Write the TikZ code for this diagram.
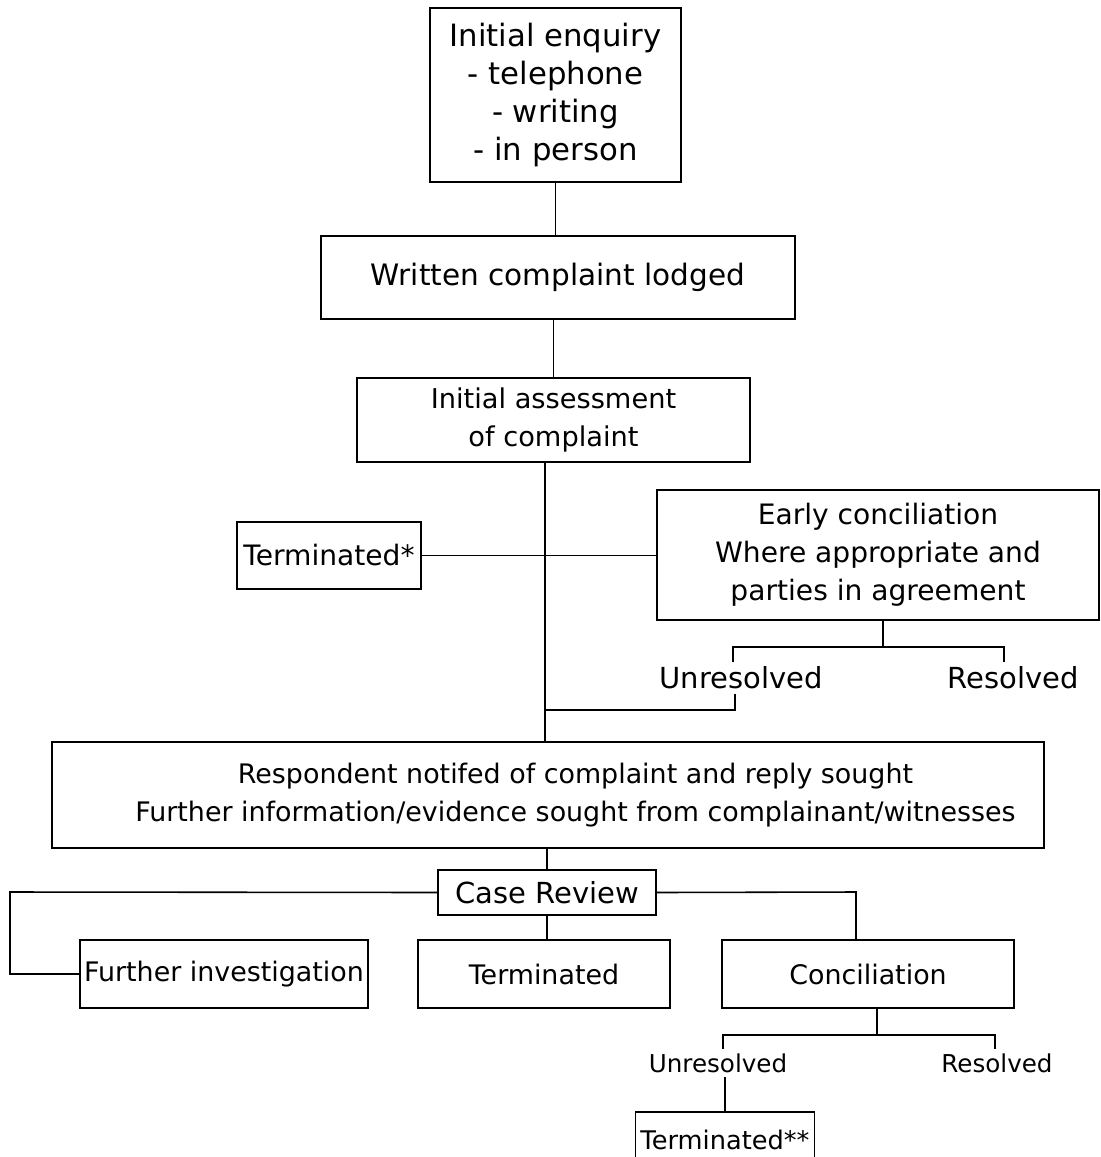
\documentclass[tikz,border=0pt]{standalone}
\usepackage{fontspec}
\setmainfont{DejaVu Sans}
\newcommand{\sz}[1]{\fontsize{#1}{21.5}\selectfont}

\begin{document}
\begin{tikzpicture}[x=0.02cm, y=-0.02cm, line width=0.9pt,
    box/.style={draw, rectangle, align=center, inner sep=0pt},
    lbl/.style={inner sep=2pt}]
    \useasboundingbox (0,0) rectangle (1101,1157);
    \node[box, minimum width=5.02cm, minimum height=3.48cm, font=\sz{17.5}] (enq) at (555.5,95) {Initial enquiry\\- telephone\\- writing\\- in person};
    \node[box, minimum width=9.48cm, minimum height=1.66cm, font=\sz{16.8}] (written) at (558,277.5) {Written complaint lodged};
    \node[box, minimum width=7.86cm, minimum height=1.68cm, font=\sz{15.5}] (assess) at (553.5,420) {Initial assessment\\of complaint};
    \node[box, minimum width=3.68cm, minimum height=1.34cm, font=\sz{16}] (term1) at (329,555.5) {Terminated*};
    \node[box, minimum width=8.84cm, minimum height=2.6cm, font=\sz{16}] (early) at (878,555) {Early conciliation\\Where appropriate and\\parties in agreement};
    \node[lbl, font=\sz{16.5}] (unres1) at (741,678) {Unresolved};
    \node[lbl, font=\sz{16.5}] (res1) at (1013,678) {Resolved};
    \node[box, minimum width=19.84cm, minimum height=2.12cm, font=\sz{15.3}] (resp) at (548,795) {\hspace*{1.1cm}Respondent notifed of complaint and reply sought\\\hspace*{1.1cm}Further information/evidence sought from complainant/witnesses};
    \node[box, minimum width=4.36cm, minimum height=0.9cm, font=\sz{16.5}] (review) at (547,892.5) {Case Review};
    \node[box, minimum width=5.76cm, minimum height=1.36cm, font=\sz{15.3}] (further) at (224,974) {Further investigation};
    \node[box, minimum width=5.04cm, minimum height=1.36cm, font=\sz{15.3}] (term2) at (544,974) {Terminated};
    \node[box, minimum width=5.84cm, minimum height=1.36cm, font=\sz{15.3}] (concil) at (868,974) {Conciliation};
    \node[lbl, font=\sz{14}] (unres2) at (718,1063) {Unresolved};
    \node[lbl, font=\sz{14}] (res2) at (997,1063) {Resolved};
    \node[box, minimum width=3.58cm, minimum height=1.12cm, font=\sz{14.6}] (term3) at (725,1140) {Terminated**};

    \coordinate (sp1) at (545,556);
    \coordinate (j2) at (545,710);
    \coordinate (b1) at (883,647);
    \coordinate (lft) at (10,892);
    \coordinate (rgt) at (856,892);
    \coordinate (b2) at (877,1035);

    \draw (enq.south) -- (enq.south |- written.north);
    \draw (assess.north) -- (assess.north |- written.south);
    \draw (sp1 |- assess.south) -- (sp1 |- resp.north);
    \draw (term1.east) -- (term1.east -| early.west);
    \draw (b1 |- early.south) -- (b1);
    \draw ([xshift=-0.16cm]unres1.north) |- (b1) -| ([xshift=-0.18cm]res1.north);
    \draw ([xshift=-0.12cm]unres1.south) |- (j2);
    \draw (review.north) -- (review.north |- resp.south);
    \draw (review.west) -- (lft) |- (further.west);
    \draw (review.south) -- (review.south |- term2.north);
    \draw (review.east) -- (rgt) -- (rgt |- concil.north);
    \draw (b2 |- concil.south) -- (b2);
    \draw ([xshift=0.1cm]unres2.north) |- (b2) -| ([xshift=-0.04cm]res2.north);
    \draw (term3.north) -- (term3.north |- unres2.south);
\end{tikzpicture}
\end{document}
